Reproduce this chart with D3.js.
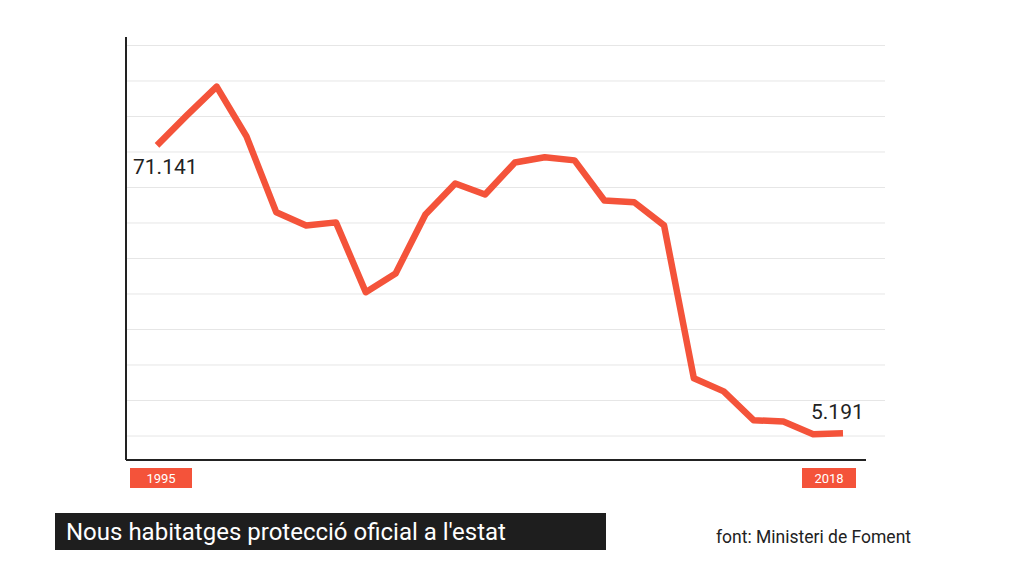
<!DOCTYPE html>
<html><head><meta charset="utf-8">
<script src="https://cdn.jsdelivr.net/npm/d3@7"></script>
<style>body{margin:0;background:#fff}</style></head>
<body><svg id="c" width="1024" height="576"></svg>
<script>
const years = d3.range(1995, 2019);
const values = [71141,78000,84600,73200,55800,52800,53500,37500,41800,55300,62400,59900,67200,68400,67700,58500,58100,52800,17800,14800,8200,7900,5000,5191];
const gridValues = [4580,12710,20840,28970,37100,45230,53360,61490,69620,77750,85880,94010];
const labelText = {first:"71.141", last:"5.191"};
const title = "Nous habitatges protecció oficial a l'estat";
const source = "font: Ministeri de Foment";

const svg = d3.select("#c");
const x = d3.scaleLinear().domain([1995,2018]).range([157,843]);
const y = d3.scaleLinear().domain([0,90000]).range([456,63]);

svg.append("g").selectAll("line").data(gridValues).join("line")
  .attr("x1",126).attr("x2",885).attr("y1",d=>y(d)).attr("y2",d=>y(d))
  .attr("stroke","#e6e6e6").attr("stroke-width",1);
svg.append("line").attr("x1",126).attr("x2",126).attr("y1",37).attr("y2",460).attr("stroke","#222").attr("stroke-width",2);
svg.append("line").attr("x1",126).attr("x2",866).attr("y1",460).attr("y2",460).attr("stroke","#222").attr("stroke-width",2);

svg.append("path").datum(values)
  .attr("d", d3.line().x((d,i)=>x(years[i])).y(d=>y(d)))
  .attr("fill","none").attr("stroke","#f4533a").attr("stroke-width",6.5).attr("stroke-linejoin","round");

svg.append("text").attr("x",133).attr("y",174).attr("font-family","Roboto, sans-serif").attr("font-size",21).attr("fill","#222").text(labelText.first);
svg.append("text").attr("x",811).attr("y",419).attr("font-family","Roboto, sans-serif").attr("font-size",21).attr("fill","#222").text(labelText.last);

function tag(cx, txt, w){
  svg.append("rect").attr("x",cx).attr("y",468).attr("width",w).attr("height",20).attr("fill","#f4533a");
  svg.append("text").attr("x",cx+w/2).attr("y",483).attr("text-anchor","middle").attr("font-family","Roboto, sans-serif").attr("font-size",13).attr("fill","#fff").text(txt);
}
tag(130, String(years[0]), 62);
tag(802, String(years[years.length-1]), 54);

svg.append("rect").attr("x",55).attr("y",513).attr("width",551).attr("height",37).attr("fill","#1e1e1e");
svg.append("text").attr("x",66).attr("y",540).attr("font-family","Roboto, sans-serif").attr("font-size",24).attr("fill","#fff").text(title);
svg.append("text").attr("x",716).attr("y",543).attr("font-family","Roboto, sans-serif").attr("font-size",17.5).attr("fill","#222").text(source);
</script></body></html>
